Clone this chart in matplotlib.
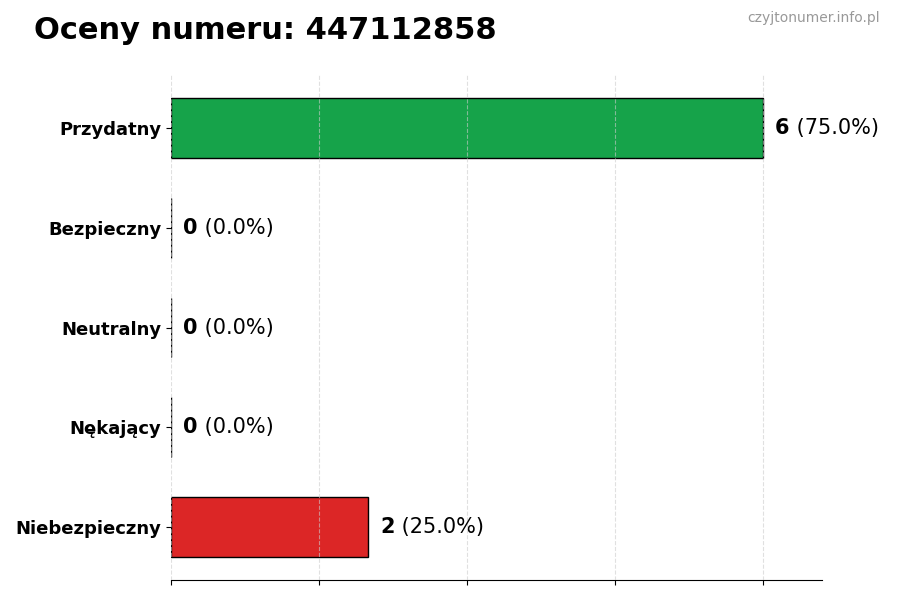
import matplotlib
matplotlib.use("Agg")
import matplotlib.pyplot as plt

# data
categories = ['Przydatny', 'Bezpieczny', 'Neutralny', 'Nękający', 'Niebezpieczny']
counts = [6, 0, 0, 0, 2]
colors = ['#16a34a', '#9ca3af', '#6b7280', '#f97316', '#dc2626']
phone = '447112858'

total = sum(counts)
ypos = list(range(len(categories)))[::-1]

fig = plt.figure(figsize=(9, 6), dpi=100)
ax = fig.add_axes([0.19, 0.0333, 0.723, 0.8417])

ax.barh(ypos, counts, height=0.6, color=colors, edgecolor='black', linewidth=1, zorder=2)

ax.set_xlim(0, max(counts) * 1.1)
ax.set_xticks([0, 1.5, 3, 4.5, 6])
ax.set_xticklabels([])
ax.set_yticks(ypos)
ax.set_yticklabels(categories, fontsize=13, fontweight='bold')
ax.grid(axis='x', linestyle='--', color='#cccccc', linewidth=0.8, alpha=0.6, zorder=3)
ax.set_axisbelow(False)

for s in ['top', 'right', 'left']:
    ax.spines[s].set_visible(False)

# value labels
for y, c in zip(ypos, counts):
    pct = c / total * 100
    t1 = ax.annotate(str(c), xy=(c, y), xytext=(9, 0), textcoords='offset points',
                     va='center', ha='left', fontsize=15, fontweight='bold')
    ax.annotate(f' ({pct:.1f}%)', xy=(1, 0), xycoords=t1, va='bottom', ha='left',
                fontsize=15)

fig.text(0.038, 0.935, f'Oceny numeru: {phone}', fontsize=22, fontweight='bold',
         ha='left', va='baseline')
fig.text(0.978, 0.982, 'czyjtonumer.info.pl', fontsize=10, color='#999999',
         ha='right', va='top')

fig.savefig('out.png', dpi=100)
